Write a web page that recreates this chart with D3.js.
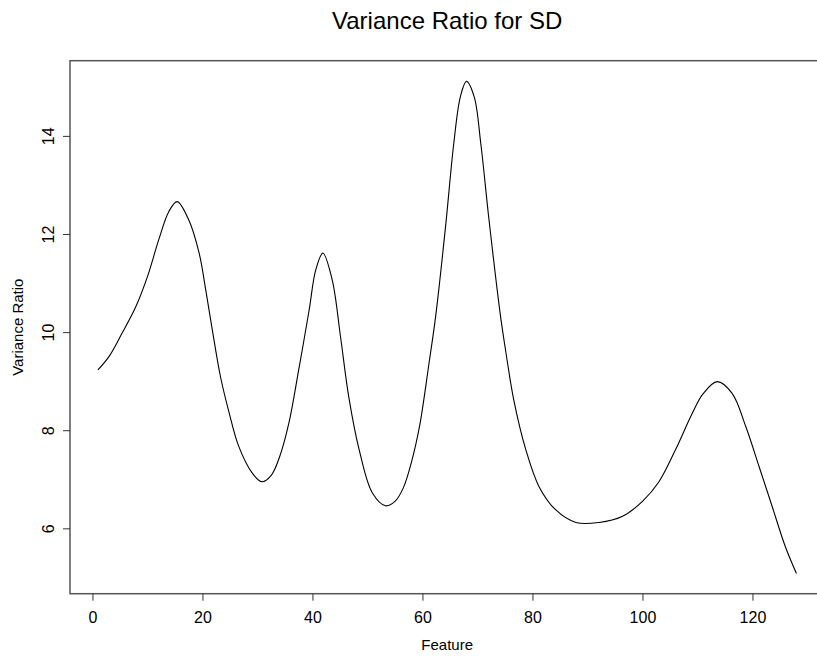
<!DOCTYPE html>
<html>
<head>
<meta charset="utf-8">
<script src="https://cdn.jsdelivr.net/npm/d3@7"></script>
<style>
body { margin: 0; background: #fff; }
svg { display: block; }
text { font-family: "Liberation Sans", Arial, Helvetica, sans-serif; fill: #000; }
</style>
</head>
<body>
<svg id="chart" width="817" height="658"></svg>
<script>
const title = "Variance Ratio for SD";
const xLabel = "Feature";
const yLabel = "Variance Ratio";
const featureX = [1, 3, 5.4, 7.9, 10, 12.1, 13.9, 15.4, 17.5, 19.4, 20.6, 21.8, 23.3, 24.8, 26.6, 29.1, 30.8, 32.5, 34.0, 35.7, 37.5, 39.4, 40.6, 41.9, 43.6, 45.1, 46.6, 48.5, 50.9, 53.3, 55.0, 56.5, 58.0, 59.5, 61.2, 62.4, 64.2, 65.7, 66.9, 68.0, 69.4, 70.6, 72.1, 74.2, 75.1, 76.6, 78.8, 81.2, 84.2, 87.9, 92.1, 96.3, 100, 103, 106, 109, 111, 113.6, 116.3, 118.8, 121.2, 123.6, 126.0, 128];
const ratioY = [9.23, 9.50, 9.98, 10.52, 11.13, 11.90, 12.46, 12.66, 12.29, 11.61, 10.86, 10.04, 9.08, 8.38, 7.67, 7.12, 6.95, 7.08, 7.45, 8.14, 9.23, 10.45, 11.27, 11.61, 11.06, 9.91, 8.68, 7.60, 6.72, 6.46, 6.55, 6.82, 7.35, 8.10, 9.37, 10.32, 12.15, 13.85, 14.80, 15.11, 14.80, 13.85, 12.29, 10.32, 9.64, 8.62, 7.60, 6.85, 6.38, 6.12, 6.12, 6.24, 6.55, 6.95, 7.60, 8.33, 8.74, 8.99, 8.75, 8.07, 7.26, 6.44, 5.62, 5.08];
const xTicks = [0, 20, 40, 60, 80, 100, 120];
const yTicks = [6, 8, 10, 12, 14];

const svg = d3.select("#chart");
const mLeft = 70, mRight = 824.4, mTop = 60.7, mBottom = 593.7;

// R-style 4% axis extension
const xMin = 1, xMax = 128, yMin = 5.07, yMax = 15.13;
const xPad = (xMax - xMin) * 0.04, yPad = (yMax - yMin) * 0.04;
const x = d3.scaleLinear().domain([xMin - xPad, xMax + xPad]).range([mLeft, mRight]);
const y = d3.scaleLinear().domain([yMin - yPad, yMax + yPad]).range([mBottom, mTop]);

const data = featureX.map((v, i) => ({x: v, y: ratioY[i]}));

const line = d3.line().x(d => x(d.x)).y(d => y(d.y)).curve(d3.curveCatmullRom.alpha(0.5));
svg.append("path").datum(data)
  .attr("d", line).attr("fill", "none").attr("stroke", "#000").attr("stroke-width", 1.1);

// box
svg.append("rect").attr("x", mLeft).attr("y", mTop)
  .attr("width", mRight - mLeft).attr("height", mBottom - mTop)
  .attr("fill", "none").attr("stroke", "#555").attr("stroke-width", 1.5);

// x axis
const xAxis = d3.axisBottom(x).tickValues(xTicks).tickSize(7).tickPadding(11).tickFormat(d3.format("d"));
const gx = svg.append("g").attr("transform", `translate(0,${mBottom})`).call(xAxis);
gx.select(".domain").remove();
gx.selectAll("line").attr("stroke", "#333");
gx.selectAll("text").attr("font-size", 16).style("font-family", "'Liberation Sans', Arial, sans-serif");

// y axis
const yAxis = d3.axisLeft(y).tickValues(yTicks).tickSize(7).tickFormat(d3.format("d"));
const gy = svg.append("g").attr("transform", `translate(${mLeft},0)`).call(yAxis);
gy.select(".domain").remove();
gy.selectAll("line").attr("stroke", "#333");
gy.selectAll("text")
  .attr("x", null).attr("dy", null)
  .attr("text-anchor", "middle")
  .attr("font-size", 16)
  .style("font-family", "'Liberation Sans', Arial, sans-serif")
  .attr("transform", "translate(-22,0) rotate(-90)")
  .attr("y", 0).attr("dy", "0.35em");

// title
svg.append("text").attr("x", (mLeft + mRight) / 2).attr("y", 28.5)
  .attr("text-anchor", "middle").attr("font-size", 24).text(title);

// axis labels
svg.append("text").attr("x", (mLeft + mRight) / 2).attr("y", 650)
  .attr("text-anchor", "middle").attr("font-size", 15).text(xLabel);
svg.append("text").attr("transform", `translate(23,${(mTop + mBottom) / 2}) rotate(-90)`)
  .attr("text-anchor", "middle").attr("font-size", 15).text(yLabel);
</script>
</body>
</html>
